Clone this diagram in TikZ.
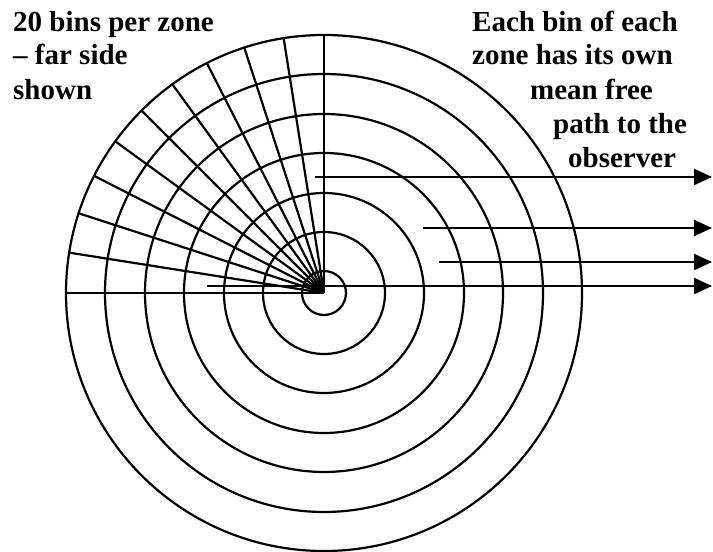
\documentclass[tikz,border=0pt]{standalone}
\usepackage{fontspec}
\setmainfont{Liberation Serif}
\usetikzlibrary{arrows.meta}
\begin{document}
\begin{tikzpicture}[x=1pt,y=1pt,
  ln/.style={line width=2.2pt},
  ray/.style={line width=2.2pt,-{Triangle[length=18pt,width=16pt]}},
  lbl/.style={inner sep=0pt,anchor=base west,font=\fontsize{29}{34}\selectfont\bfseries}]
\useasboundingbox (0,0) rectangle (713,552);
\coordinate (c) at (324,259);
% zone boundaries
\foreach \r in {22,61,100,140,179,219,258} \draw[ln] (c) circle[radius=\r];
% bin boundaries (far side, one quadrant)
\foreach \a in {90,99,...,180} \draw[ln] (c) -- ++(\a:258);
% mean free paths to the observer
\coordinate (s1) at (315,375); \coordinate (e1) at (712,375);
\coordinate (s2) at (423,324); \coordinate (e2) at (712,324);
\coordinate (s3) at (439,290); \coordinate (e3) at (712,290);
\coordinate (s4) at (207,266); \coordinate (e4) at (712,266);
\draw[ray] (s1) -- (e1);
\draw[ray] (s2) -- (e2);
\draw[ray] (s3) -- (e3);
\draw[ray] (s4) -- (e4);
% labels
\node[lbl] (l1) at (13,520) {20 bins per zone};
\node[lbl] (l2) at (13,487) {– far side};
\node[lbl] (l3) at (13,452) {shown};
\node[lbl] (r1) at (472,520) {Each bin of each};
\node[lbl] (r2) at (472,487) {zone has its own};
\node[lbl] (r3) at (530,452) {mean free};
\node[lbl] (r4) at (553,418) {path to the};
\node[lbl] (r5) at (568,384) {observer};
\end{tikzpicture}
\end{document}
